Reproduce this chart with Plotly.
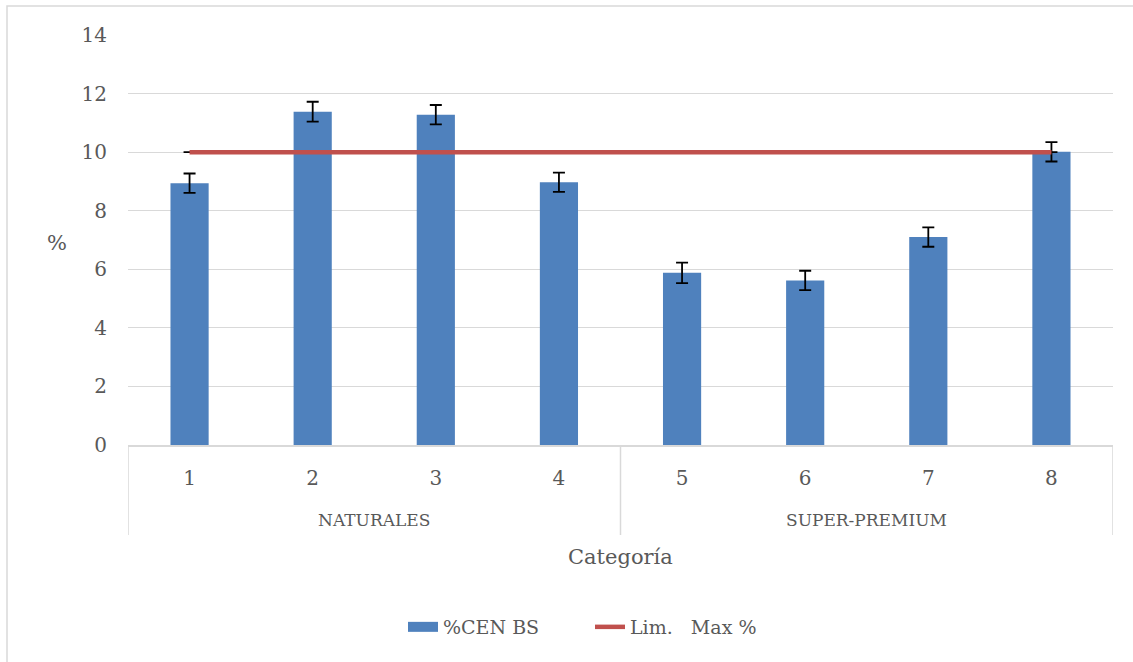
import plotly.graph_objects as go

groups = ["NATURALES", "SUPER-PREMIUM"]
group_sizes = [4, 4]
samples = ["1", "2", "3", "4", "5", "6", "7", "8"]
cen_bs = [8.94, 11.38, 11.28, 8.97, 5.88, 5.62, 7.10, 10.01]
cen_err = [0.33, 0.34, 0.33, 0.33, 0.35, 0.33, 0.33, 0.33]
lim_max = [10, 10, 10, 10, 10, 10, 10, 10]

FONT = "DejaVu Serif"
TXT = "#595959"
GRID = "#D9D9D9"
BLUE = "#4F81BD"
RED = "#C0504D"

W, H = 1133, 662
L, T = 128, 35
pw, ph = 985, 410
R, B = W - L - pw, H - T - ph


def px(x):
    return (x - L) / pw


def py(y):
    return (T + ph - y) / ph


fig = go.Figure()
fig.add_trace(go.Bar(
    x=samples, y=cen_bs, name="%CEN BS", showlegend=False, legendgroup="cen",
    marker=dict(color=BLUE, line=dict(width=0)),
    error_y=dict(type="data", array=cen_err, visible=True,
                 color="black", thickness=1.8, width=6),
))
# legend proxy (wide rectangle symbol like the original)
fig.add_trace(go.Scatter(
    x=[None], y=[None], name="%CEN BS", legendgroup="cen",
    mode="lines", line=dict(color=BLUE, width=12),
))
fig.add_trace(go.Scatter(
    x=samples, y=lim_max, name="Lim.\u00a0\u00a0 Max %",
    mode="lines", line=dict(color=RED, width=4.5),
    error_y=dict(type="data", array=[0] * 8, visible=True,
                 color="black", thickness=1.8, width=6),
))

shapes = [dict(type="rect", xref="paper", yref="paper",
               x0=px(7), x1=px(1200), y0=py(720), y1=py(6),
               line=dict(color=GRID, width=1.5), fillcolor="rgba(0,0,0,0)",
               layer="below")]
annotations = [
    dict(text="%", xref="paper", yref="paper", x=px(57), y=py(243),
         xanchor="center", yanchor="middle",
         showarrow=False, font=dict(family=FONT, size=21, color=TXT)),
    dict(text="Categoría", xref="paper", yref="paper", x=px(620), y=py(557),
         xanchor="center", yanchor="middle",
         showarrow=False, font=dict(family=FONT, size=21, color=TXT)),
]
start = 0
bounds = [-0.5]
for g, n in zip(groups, group_sizes):
    annotations.append(dict(text=g, xref="x", yref="paper",
                            x=start + (n - 1) / 2, y=py(520),
                            xanchor="center", yanchor="middle", showarrow=False,
                            font=dict(family=FONT, size=17, color=TXT)))
    start += n
    bounds.append(start - 0.5)
for b in bounds:
    shapes.append(dict(type="line", xref="x", yref="paper", x0=b, x1=b,
                       y0=0, y1=py(535), line=dict(color=GRID, width=1.5)))

fig.update_layout(
    width=W, height=H,
    margin=dict(l=L, r=R, t=T, b=B),
    paper_bgcolor="white", plot_bgcolor="white",
    font=dict(family=FONT, size=19, color=TXT),
    bargap=0.69,
    showlegend=True,
    legend=dict(orientation="h", x=px(403), xanchor="left",
                y=py(627), yanchor="middle", entrywidth=142,
                font=dict(family=FONT, size=19, color=TXT),
                traceorder="normal"),
    shapes=shapes,
    annotations=annotations,
)
fig.update_yaxes(range=[0, 14], dtick=2, showgrid=True, gridcolor=GRID,
                 gridwidth=1, zeroline=False, showline=False, ticks="",
                 ticklabelstandoff=20,
                 tickfont=dict(family=FONT, size=20, color=TXT))
fig.update_xaxes(type="category", range=[-0.5, 7.5], showline=True,
                 linecolor=GRID, linewidth=1.5, ticks="",
                 ticklabelstandoff=14,
                 tickfont=dict(family=FONT, size=20, color=TXT))

fig.write_html("out.html", config={"displayModeBar": False},
               post_script="document.body.style.margin='0';"
                           "document.body.style.overflow='hidden';")
